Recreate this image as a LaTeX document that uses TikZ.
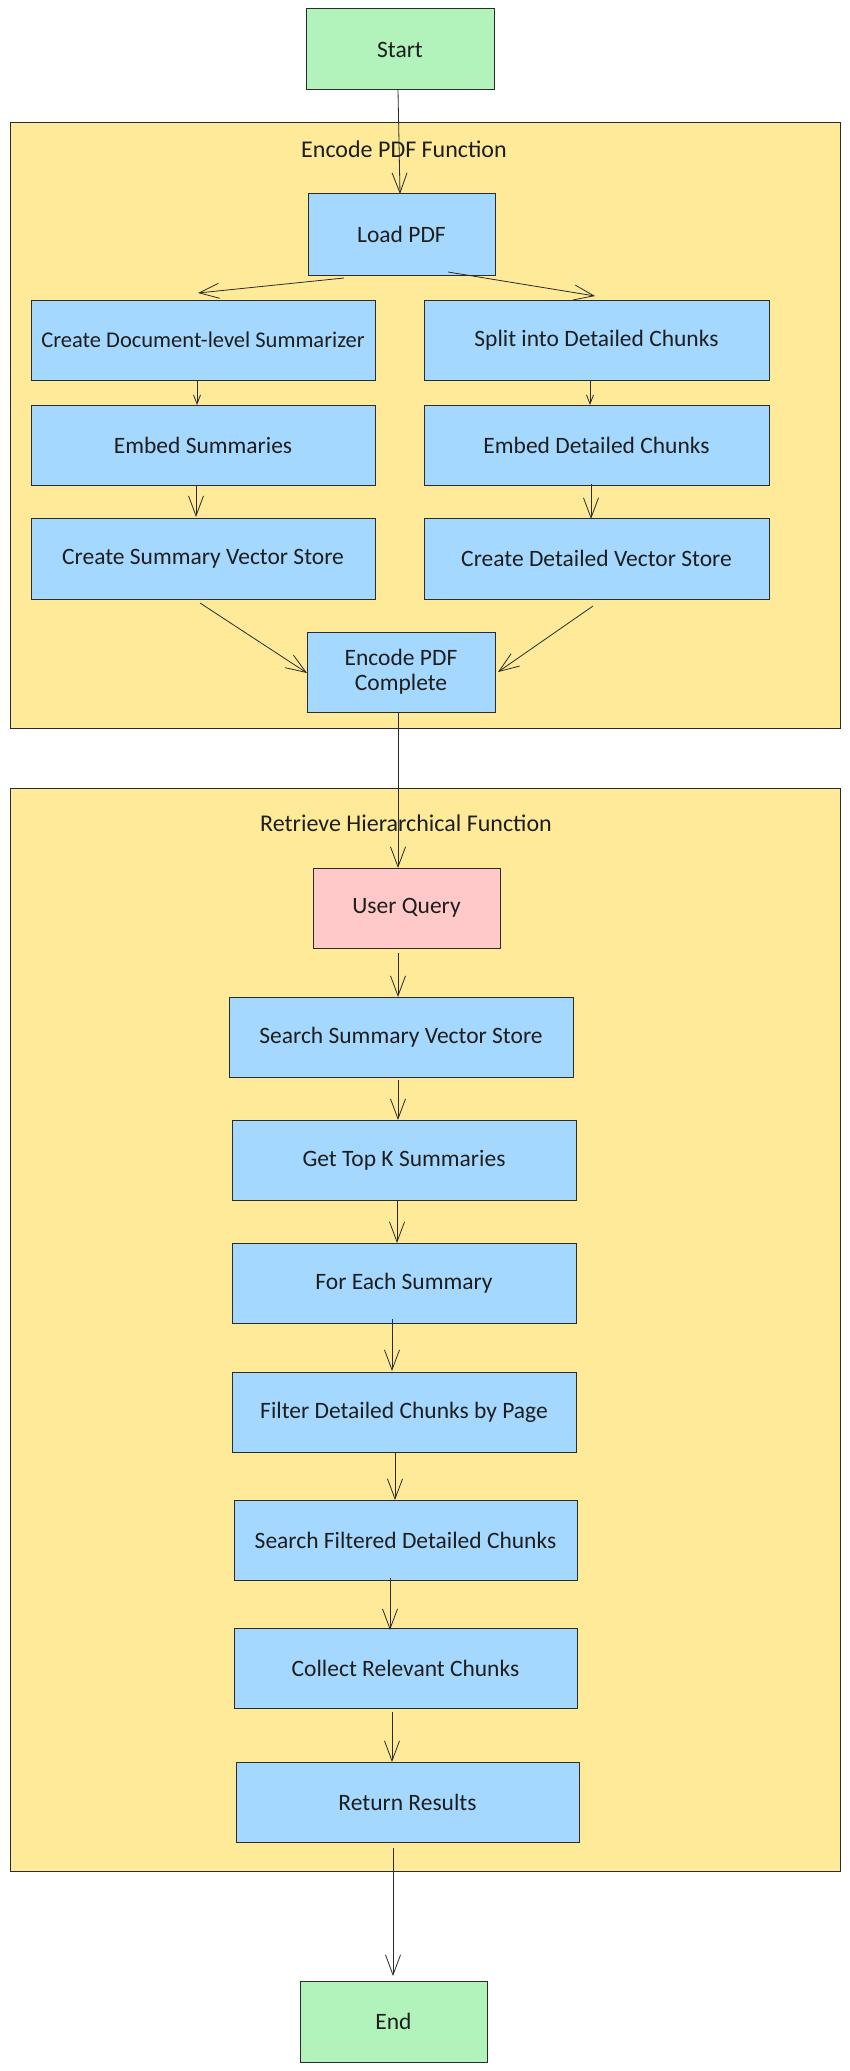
\documentclass[tikz,border=0pt]{standalone}
\usepackage{fontspec}
\setmainfont{Carlito}
\usetikzlibrary{arrows.meta}
\definecolor{startgreen}{HTML}{B2F2BB}
\definecolor{procblue}{HTML}{A5D8FF}
\definecolor{groupyellow}{HTML}{FFEA99}
\definecolor{querypink}{HTML}{FFC9C9}
\definecolor{linec}{HTML}{2B2B2B}
\definecolor{textc}{HTML}{1E1E1E}
\begin{document}
\begin{tikzpicture}[x=1pt,y=-1pt,
  every node/.style={font=\fontsize{23.5}{25}\selectfont, text=textc},
  boxbase/.style={draw=linec, line width=1pt, inner sep=0pt, outer sep=0pt, align=center, minimum height=80pt},
  procbox/.style={boxbase, fill=procblue},
  termbox/.style={boxbase, fill=startgreen},
  qbox/.style={boxbase, fill=querypink},
  groupbox/.style={draw=linec, line width=1pt, fill=groupyellow},
  grouptitle/.style={font=\fontsize{24}{26}\selectfont},
  arr/.style={draw=linec, line width=0.8pt, -{Straight Barb[length=20pt,width=15pt,line width=0.8pt]}},
  arrsmall/.style={draw=linec, line width=0.8pt, -{Straight Barb[length=9pt,width=7pt,line width=0.8pt]}}
]
\useasboundingbox (0,0) rectangle (850,2071);
\fill[white] (0,0) rectangle (850,2071);

% groups
\draw[groupbox] (10,123) rectangle (840,728);
\draw[groupbox] (10,788) rectangle (840,1871);
\node[grouptitle] (t1) at (404,149) {Encode PDF Function};
\node[grouptitle] (t2) at (406,823) {Retrieve Hierarchical Function};

% nodes
\node[termbox, minimum width=188pt, minimum height=81pt] (start) at (400,49.5) {Start};
\node[procbox, minimum width=187pt, minimum height=81pt] (load) at (401.5,234.5) {Load PDF};
\node[procbox, minimum width=344pt, font=\fontsize{22.5}{25}\selectfont] (doc) at (203,340) {Create Document-level Summarizer};
\node[procbox, minimum width=345pt] (split) at (596.5,340) {Split into Detailed Chunks};
\node[procbox, minimum width=344pt] (embs) at (203,445) {Embed Summaries};
\node[procbox, minimum width=345pt] (embd) at (596.5,445) {Embed Detailed Chunks};
\node[procbox, minimum width=344pt, minimum height=81pt] (csvs) at (203,558.5) {Create Summary Vector Store};
\node[procbox, minimum width=345pt, minimum height=81pt] (cdvs) at (596.5,558.5) {Create Detailed Vector Store};
\node[procbox, minimum width=188pt] (enc) at (401,672) {Encode PDF\\Complete};

\node[qbox, minimum width=187pt] (query) at (406.5,908) {User Query};
\node[procbox, minimum width=344pt] (ssvs) at (401,1037) {Search Summary Vector Store};
\node[procbox, minimum width=344pt] (topk) at (404,1160) {Get Top K Summaries};
\node[procbox, minimum width=344pt] (each) at (404,1283) {For Each Summary};
\node[procbox, minimum width=344pt] (filter) at (404,1412) {Filter Detailed Chunks by Page};
\node[procbox, minimum width=343pt] (sfdc) at (405.5,1540) {Search Filtered Detailed Chunks};
\node[procbox, minimum width=343pt] (collect) at (405.5,1668) {Collect Relevant Chunks};
\node[procbox, minimum width=343pt] (ret) at (407.5,1802) {Return Results};
\node[termbox, minimum width=187pt, minimum height=81pt] (end) at (393.5,2021.5) {End};

% connectors
\draw[arr] ([xshift=-2pt]start.south) -- ([xshift=-1.5pt]load.north);
\draw[arr] ([xshift=-57.5pt,yshift=-3pt]load.south) -- ([xshift=-5pt,yshift=7pt]doc.north);
\draw[arr] ([xshift=46.5pt,yshift=3pt]load.south) -- ([xshift=-1.5pt,yshift=4pt]split.north);
\draw[arrsmall] ([xshift=-6pt]doc.south) -- ([xshift=-6pt]embs.north);
\draw[arrsmall] ([xshift=-6.5pt]split.south) -- ([xshift=-6.5pt]embd.north);
\draw[arr] ([xshift=-7pt]embs.south) -- ([xshift=-7pt,yshift=1pt]csvs.north);
\draw[arr] ([xshift=-5.5pt,yshift=1pt]embd.south) -- ([xshift=-5.5pt,yshift=-1pt]cdvs.north);
\draw[arr] ([xshift=-3pt,yshift=-4pt]csvs.south) -- ([yshift=-1pt]enc.west);
\draw[arr] ([xshift=-3.5pt,yshift=-7pt]cdvs.south) -- ([xshift=3pt]enc.east);
\draw[arr] ([xshift=-3pt]enc.south) -- ([xshift=-8.5pt]query.north);
\draw[arr] ([xshift=-8.5pt,yshift=-5pt]query.south) -- ([xshift=-3pt]ssvs.north);
\draw[arr] ([xshift=-3pt,yshift=-3pt]ssvs.south) -- ([xshift=-6pt]topk.north);
\draw[arr] ([xshift=-7pt,yshift=-1pt]topk.south) -- ([xshift=-7pt]each.north);
\draw[arr] ([xshift=-12pt,yshift=4pt]each.south) -- ([xshift=-12pt,yshift=1pt]filter.north);
\draw[arr] ([xshift=-9pt,yshift=-1pt]filter.south) -- ([xshift=-10.5pt]sfdc.north);
\draw[arr] ([xshift=-15.5pt,yshift=2pt]sfdc.south) -- ([xshift=-15.5pt,yshift=-2pt]collect.north);
\draw[arr] ([xshift=-13.5pt,yshift=-4pt]collect.south) -- ([xshift=-15.5pt]ret.north);
\draw[arr] ([xshift=-14.5pt,yshift=-6pt]ret.south) -- ([xshift=-0.5pt,yshift=5pt]end.north);
\end{tikzpicture}
\end{document}
